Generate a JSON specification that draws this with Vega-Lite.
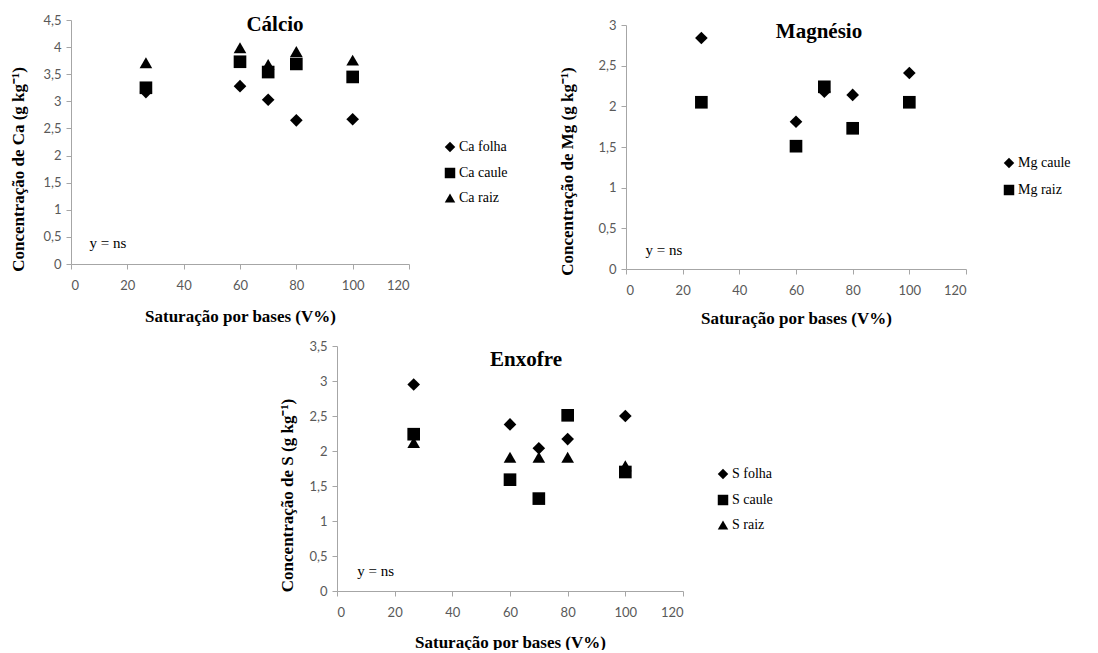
{
  "$schema": "https://vega.github.io/schema/vega-lite/v6.json",
  "background": "white",
  "padding": {"left": 9, "top": 14, "right": 0, "bottom": 0},
  "spacing": 14,
  "resolve": {"scale": {"shape": "independent"}, "legend": {"shape": "independent"}},
  "config": {
    "view": {"stroke": null},
    "locale": {"number": {"decimal": ",", "thousands": ".", "grouping": [3], "currency": ["", ""]}},
    "axis": {
      "grid": false,
      "labelOverlap": false,
      "tickCount": 20,
      "labelFont": "Lato",
      "labelFontSize": 13,
      "labelColor": "#595959",
      "titleFont": "Liberation Serif",
      "titleFontSize": 17,
      "titleFontWeight": "bold",
      "titleColor": "black",
      "domainColor": "#a6a6a6",
      "tickColor": "#a6a6a6",
      "tickSize": 5
    },
    "axisX": {"labelPadding": 10, "titlePadding": 16, "format": ".1~f"},
    "axisY": {"labelPadding": 5, "titlePadding": 15, "format": ".1~f"},
    "legend": {
      "labelFont": "Liberation Serif",
      "labelFontSize": 14,
      "labelColor": "black",
      "symbolFillColor": "black",
      "symbolStrokeColor": "black",
      "symbolSize": 110,
      "rowPadding": 8,
      "padding": 0,
      "labelOffset": 2
    },
    "title": {"font": "Liberation Serif", "fontSize": 21, "fontWeight": "bold", "color": "black", "anchor": "middle", "baseline": "middle", "offset": 0}
  },
  "vconcat": [
    {
      "spacing": 50,
      "resolve": {"scale": {"shape": "independent"}, "legend": {"shape": "independent"}},
      "hconcat": [
        {
          "width": 338,
          "height": 244,
          "title": {"text": "Cálcio", "dx": 35, "dy": 25},
          "layer": [
            {
              "data": {"values": [
                {"serie": "Ca folha", "v": 26.6, "c": 3.17},
                {"serie": "Ca folha", "v": 60, "c": 3.28},
                {"serie": "Ca folha", "v": 70, "c": 3.03},
                {"serie": "Ca folha", "v": 80, "c": 2.65},
                {"serie": "Ca folha", "v": 100, "c": 2.67},
                {"serie": "Ca caule", "v": 26.6, "c": 3.25},
                {"serie": "Ca caule", "v": 60, "c": 3.73},
                {"serie": "Ca caule", "v": 70, "c": 3.54},
                {"serie": "Ca caule", "v": 80, "c": 3.69},
                {"serie": "Ca caule", "v": 100, "c": 3.45},
                {"serie": "Ca raiz", "v": 26.6, "c": 3.71},
                {"serie": "Ca raiz", "v": 60, "c": 3.99},
                {"serie": "Ca raiz", "v": 70, "c": 3.68},
                {"serie": "Ca raiz", "v": 80, "c": 3.92},
                {"serie": "Ca raiz", "v": 100, "c": 3.76}
              ]},
              "mark": {"type": "point", "filled": true, "color": "black", "opacity": 1, "size": 160},
              "encoding": {
                "x": {"field": "v", "type": "quantitative", "scale": {"domain": [0, 120], "nice": false}, "axis": {"values": [0, 20, 40, 60, 80, 100, 120], "title": "Saturação por bases (V%)"}},
                "y": {"field": "c", "type": "quantitative", "scale": {"domain": [0, 4.5], "nice": false}, "axis": {"values": [0, 0.5, 1, 1.5, 2, 2.5, 3, 3.5, 4, 4.5], "tickCount": 20, "title": "Concentração  de Ca (g kg⁻¹)", "titleY": 149, "titlePadding": 15}},
                "shape": {"field": "serie", "type": "nominal", "scale": {"domain": ["Ca folha", "Ca caule", "Ca raiz"], "range": ["diamond", "square", "triangle-up"]}, "legend": {"title": null, "orient": "none", "legendX": 372, "legendY": 120}}
              }
            },
            {
              "data": {"values": [{"x": 6.6, "y": 0.39, "t": "y = ns"}]},
              "mark": {"type": "text", "align": "left", "baseline": "middle", "font": "Liberation Serif", "fontSize": 15, "color": "black"},
              "encoding": {
                "x": {"field": "x", "type": "quantitative"},
                "y": {"field": "y", "type": "quantitative"},
                "text": {"field": "t"}
              }
            }
          ]
        },
        {
          "spacing": 0,
          "bounds": "flush",
          "resolve": {"scale": {"shape": "independent"}, "legend": {"shape": "independent"}},
          "vconcat": [
            {
              "width": 10,
              "height": 5,
              "view": {"fill": "white", "stroke": null},
              "data": {"values": [{"a": 1}]},
              "mark": {"type": "text", "text": ""},
              "encoding": {}
            },
            {
              "width": 340,
              "height": 244,
              "title": {"text": "Magnésio", "dx": 23, "dy": 27},
              "layer": [
                {
                  "data": {"values": [
                    {"serie": "Mg caule", "v": 26.6, "c": 2.84},
                    {"serie": "Mg caule", "v": 60, "c": 1.81},
                    {"serie": "Mg caule", "v": 70, "c": 2.18},
                    {"serie": "Mg caule", "v": 80, "c": 2.14},
                    {"serie": "Mg caule", "v": 100, "c": 2.41},
                    {"serie": "Mg raiz", "v": 26.6, "c": 2.05},
                    {"serie": "Mg raiz", "v": 60, "c": 1.51},
                    {"serie": "Mg raiz", "v": 70, "c": 2.24},
                    {"serie": "Mg raiz", "v": 80, "c": 1.73},
                    {"serie": "Mg raiz", "v": 100, "c": 2.05}
                  ]},
                  "mark": {"type": "point", "filled": true, "color": "black", "opacity": 1, "size": 160},
                  "encoding": {
                    "x": {"field": "v", "type": "quantitative", "scale": {"domain": [0, 120], "nice": false}, "axis": {"values": [0, 20, 40, 60, 80, 100, 120], "title": "Saturação por bases (V%)", "titlePadding": 13}},
                    "y": {"field": "c", "type": "quantitative", "scale": {"domain": [0, 3], "nice": false}, "axis": {"values": [0, 0.5, 1, 1.5, 2, 2.5, 3], "tickCount": 20, "title": "Concentração  de Mg (g kg⁻¹)", "titleY": 146, "titlePadding": 21}},
                    "shape": {"field": "serie", "type": "nominal", "scale": {"domain": ["Mg caule", "Mg raiz"], "range": ["diamond", "square"]}, "legend": {"title": null, "orient": "none", "legendX": 376, "legendY": 131, "rowPadding": 9}}
                  }
                },
                {
                  "data": {"values": [{"x": 6.9, "y": 0.23, "t": "y = ns"}]},
                  "mark": {"type": "text", "align": "left", "baseline": "middle", "font": "Liberation Serif", "fontSize": 15, "color": "black"},
                  "encoding": {
                    "x": {"field": "x", "type": "quantitative"},
                    "y": {"field": "y", "type": "quantitative"},
                    "text": {"field": "t"}
                  }
                }
              ]
            }
          ]
        }
      ]
    },
    {
      "spacing": 0,
      "resolve": {"scale": {"shape": "independent"}, "legend": {"shape": "independent"}},
      "hconcat": [
        {
          "width": 207,
          "height": 5,
          "view": {"fill": "white", "stroke": null},
          "data": {"values": [{"a": 1}]},
          "mark": {"type": "text", "text": ""},
          "encoding": {}
        },
        {
          "width": 346,
          "height": 245,
          "title": {"text": "Enxofre", "dx": 16, "dy": 34},
          "layer": [
            {
              "data": {"values": [
                {"serie": "S folha", "v": 26.6, "c": 2.95},
                {"serie": "S folha", "v": 60, "c": 2.38},
                {"serie": "S folha", "v": 70, "c": 2.04},
                {"serie": "S folha", "v": 80, "c": 2.17},
                {"serie": "S folha", "v": 100, "c": 2.5},
                {"serie": "S caule", "v": 26.6, "c": 2.24},
                {"serie": "S caule", "v": 60, "c": 1.59},
                {"serie": "S caule", "v": 70, "c": 1.32},
                {"serie": "S caule", "v": 80, "c": 2.51},
                {"serie": "S caule", "v": 100, "c": 1.7},
                {"serie": "S raiz", "v": 26.6, "c": 2.12},
                {"serie": "S raiz", "v": 60, "c": 1.91},
                {"serie": "S raiz", "v": 70, "c": 1.91},
                {"serie": "S raiz", "v": 80, "c": 1.91},
                {"serie": "S raiz", "v": 100, "c": 1.79}
              ]},
              "mark": {"type": "point", "filled": true, "color": "black", "opacity": 1, "size": 160},
              "encoding": {
                "x": {"field": "v", "type": "quantitative", "scale": {"domain": [0, 120], "nice": false}, "axis": {"values": [0, 20, 40, 60, 80, 100, 120], "title": "Saturação por bases (V%)", "titlePadding": 15}},
                "y": {"field": "c", "type": "quantitative", "scale": {"domain": [0, 3.5], "nice": false}, "axis": {"values": [0, 0.5, 1, 1.5, 2, 2.5, 3, 3.5], "tickCount": 20, "title": "Concentração  de S (g kg⁻¹)", "titleY": 149, "titlePadding": 12}},
                "shape": {"field": "serie", "type": "nominal", "scale": {"domain": ["S folha", "S caule", "S raiz"], "range": ["diamond", "square", "triangle-up"]}, "legend": {"title": null, "orient": "none", "legendX": 379, "legendY": 121}}
              }
            },
            {
              "data": {"values": [{"x": 7.0, "y": 0.29, "t": "y = ns"}]},
              "mark": {"type": "text", "align": "left", "baseline": "middle", "font": "Liberation Serif", "fontSize": 15, "color": "black"},
              "encoding": {
                "x": {"field": "x", "type": "quantitative"},
                "y": {"field": "y", "type": "quantitative"},
                "text": {"field": "t"}
              }
            }
          ]
        }
      ]
    }
  ]
}
